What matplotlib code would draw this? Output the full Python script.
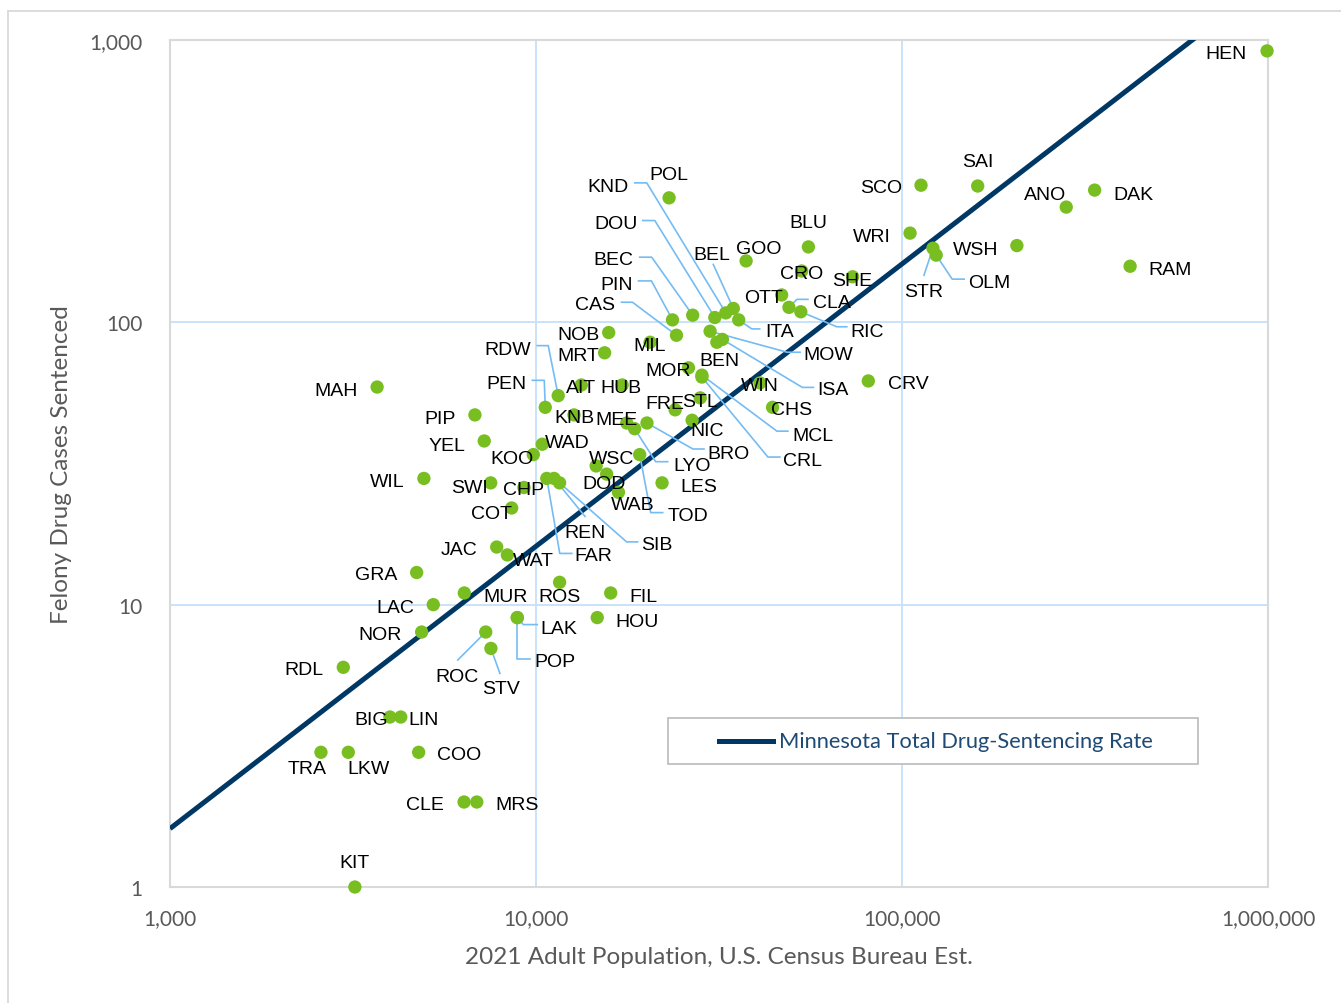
import matplotlib
matplotlib.use("Agg")
import matplotlib.pyplot as plt
from matplotlib import font_manager
from matplotlib.lines import Line2D
from matplotlib.patches import Rectangle
from matplotlib.transforms import IdentityTransform
import numpy as np

# county codes, adult population (2021 est.) and felony drug cases sentenced
counties = ["HEN", "RAM", "DAK", "ANO", "WSH", "SAI", "OLM", "STR", "SCO", "WRI",
            "CRV", "SHE", "BLU", "CRO", "RIC", "CLA", "OTT", "CHS", "WIN", "GOO",
            "ITA", "BEL", "KND", "ISA", "BEN", "DOU", "MOW", "MCL", "CRL", "STL",
            "BEC", "NIC", "MOR", "CAS", "FRE", "PIN", "POL", "LES", "MIL", "BRO",
            "TOD", "LYO", "MEE", "HUB", "WAB", "FIL", "NOB", "DOD", "MRT", "HOU",
            "WSC", "AIT", "KNB", "ROS", "SIB", "RDW", "REN", "FAR", "PEN", "WAD",
            "KOO", "CHP", "LAK", "POP", "COT", "WAT", "JAC", "STV", "SWI", "ROC",
            "YEL", "MRS", "PIP", "MUR", "CLE", "LAC", "WIL", "NOR", "COO", "GRA",
            "LIN", "BIG", "MAH", "KIT", "LKW", "RDL", "TRA"]
adult_pop = [994000, 420000, 336000, 281000, 206000, 161000, 124000, 121500, 112700, 105200,
             80900, 73300, 55500, 53200, 52900, 49100, 46900, 44300, 40900, 37500,
             35800, 34600, 33000, 32300, 31200, 30800, 29900, 28400, 28400, 28100,
             26800, 26700, 26100, 24200, 24000, 23600, 23100, 22100, 20500, 20100,
             19200, 18600, 17700, 17200, 16800, 16000, 15800, 15600, 15400, 14700,
             14600, 13300, 12700, 11600, 11600, 11500, 11200, 10700, 10600, 10400,
             9830, 9270, 8890, 8890, 8580, 8350, 7810, 7530, 7520, 7290,
             7220, 6890, 6810, 6370, 6360, 5240, 4940, 4870, 4780, 4720,
             4270, 3990, 3680, 3200, 3070, 2975, 2585]
cases = [915, 158, 294, 256, 187, 304, 173, 183, 306, 207,
         62, 145, 185, 152, 109, 113, 125, 50, 61, 165,
         102, 112, 108, 87, 85, 104, 93, 65, 64, 54,
         106, 45, 69, 90, 49, 102, 276, 27, 85, 44,
         34, 42, 44, 60, 25, 11, 92, 29, 78, 9,
         31, 60, 47, 12, 27, 55, 28, 28, 50, 37,
         34, 26, 9, 9, 22, 15, 16, 7, 27, 8,
         38, 2, 47, 11, 2, 10, 28, 8, 3, 13,
         4, 4, 59, 1, 3, 6, 3]
state_rate = 1.61  # cases per 1,000 adults, statewide

x_ticks = [1000, 10000, 100000, 1000000]
y_ticks = [1, 10, 100, 1000]

# text centre of each county label, in pixels from its point (y pointing down)
label_offset = {
    "HEN": (-41, 0), "RAM": (40, 1), "DAK": (39, 2), "ANO": (-21, -15), "WSH": (-41, 1),
    "SAI": (0, -27), "SCO": (-40, 0), "WRI": (-38, 1), "CRV": (40, 0), "SHE": (0, 1),
    "BLU": (0, -27), "CRO": (0, 0), "OTT": (-18, 0), "CHS": (19, 0), "WIN": (0, 0),
    "GOO": (13, -15), "BEN": (3, 16), "STL": (0, 1), "NIC": (15, 8), "MOR": (-20, 0),
    "FRE": (-10, -9), "POL": (0, -26), "LES": (37, 1), "MIL": (0, 1), "MEE": (-10, -6),
    "HUB": (-1, 0), "WAB": (14, 10), "FIL": (33, 1), "NOB": (-30, -1), "DOD": (-3, 7),
    "MRT": (-26, 0), "HOU": (40, 1), "WSC": (15, -10), "AIT": (0, 0), "KNB": (0, 0),
    "ROS": (0, 12), "WAD": (25, -4), "KOO": (-21, 1), "CHP": (0, 0), "COT": (-20, 3),
    "WAT": (26, 3), "JAC": (-38, 0), "SWI": (-21, 2), "YEL": (-37, 2), "MRS": (40, 0),
    "PIP": (-35, 1), "MUR": (41, 1), "CLE": (-39, 0), "LAC": (-38, 0), "WIL": (-37, 1),
    "NOR": (-42, 0), "COO": (40, 0), "GRA": (-40, 0), "LIN": (23, 0), "BIG": (-19, 0),
    "MAH": (-41, 1), "KIT": (0, -27), "LKW": (20, 14), "RDL": (-39, 0), "TRA": (-14, 14),
    # labels with leader lines
    "KND": (-118, -129), "DOU": (-99, -96), "BEC": (-79, -58), "PIN": (-56, -38),
    "CAS": (-81, -33), "BEL": (-21, -56), "ITA": (41, 9), "MOW": (118, 21), "ISA": (111, 48),
    "CLA": (43, -7), "RIC": (66, 17), "STR": (-9, 41), "OLM": (53, 25), "RDW": (-51, -49),
    "PEN": (-39, -26), "BRO": (82, 28), "LYO": (57, 34), "MCL": (111, 58), "CRL": (101, 81),
    "TOD": (48, 58), "REN": (31, 52), "FAR": (47, 75), "SIB": (97, 59), "LAK": (42, 8),
    "POP": (38, 41), "ROC": (-29, 42), "STV": (10, 38),
}
# leader line corners, in pixels from the point
leaders = {
    "KND": [(-79, -130), (-91, -130)], "DOU": [(-60, -97), (-72, -97)],
    "BEC": [(-41, -58), (-53, -58)], "PIN": [(-21, -39), (-34, -39)],
    "CAS": [(-44, -33), (-55, -33)], "BEL": [(-20, -44)],
    "ITA": [(13, 9), (21, 9)], "MOW": [(77, 21), (90, 21)], "ISA": [(80, 48), (91, 48)],
    "CLA": [(8, -8), (19, -8)], "RIC": [(36, 15), (46, 15)], "STR": [(-9, 27)],
    "OLM": [(16, 24), (28, 24)], "RDW": [(-10, -50), (-21, -50)], "PEN": [(-1, -27), (-13, -27)],
    "BRO": [(46, 26), (57, 26)], "LYO": [(21, 33), (33, 33)], "MCL": [(75, 56), (86, 56)],
    "CRL": [(66, 80), (78, 80)], "TOD": [(11, 58), (23, 58)], "REN": [(31, 38)],
    "FAR": [(13, 75), (25, 75)], "SIB": [(67, 59), (78, 59)], "LAK": [(6, 7), (20, 7)],
    "POP": [(0, 41), (13, 41)], "ROC": [(-28, 28)], "STV": [(9, 25)],
}

navy = "#003865"
green = "#78be21"
leader_blue = "#74bcf3"
grey_text = "#595959"

avail = {f.name for f in font_manager.fontManager.ttflist}
if "Liberation Sans Narrow" in avail:
    label_font, label_size = "Liberation Sans Narrow", 16
else:
    label_font, label_size = "Liberation Sans", 14
axis_font = "Lato" if "Lato" in avail else "DejaVu Sans"
cap_half = 0.716 * label_size * 100 / 72 / 2

W, H = 1341, 1004
fig = plt.figure(figsize=(W / 100, H / 100), dpi=100)
ax = fig.add_axes([170 / W, 1 - 888 / H, (1268 - 170) / W, (888 - 41) / H])

ax.set_xscale("log")
ax.set_yscale("log")
ax.set_xlim(1000, 1000000)
ax.set_ylim(1, 1000)

ax.set_xticks(x_ticks)
ax.set_xticklabels([f"{t:,}" for t in x_ticks])
ax.set_yticks(y_ticks)
ax.set_yticklabels([f"{t:,}" for t in y_ticks])
ax.minorticks_off()
ax.tick_params(length=0, labelsize=15, labelcolor=grey_text)
ax.tick_params(axis="x", pad=15)
ax.tick_params(axis="y", pad=20)
for lab in ax.get_xticklabels() + ax.get_yticklabels():
    lab.set_fontfamily(axis_font)

ax.grid(True, color="#c6e1f8", lw=1.3)
ax.set_axisbelow(True)
for sp in ax.spines.values():
    sp.set_color("#d9d9d9")
    sp.set_linewidth(1.5)
    sp.set_zorder(3)

ax.set_xlabel("2021 Adult Population, U.S. Census Bureau Est.", fontsize=17.5,
              color=grey_text, family=axis_font)
ax.set_ylabel("Felony Drug Cases Sentenced", fontsize=17.5, color=grey_text,
              family=axis_font)
ax.xaxis.set_label_coords(0.5, (888 - 947) / 847)
ax.yaxis.set_label_coords((72 - 170) / 1098, 0.5)

# statewide rate line
xs = np.array([1000, 1000000])
ax.plot(xs, xs * state_rate / 1000, color=navy, lw=3.6, zorder=4,
        solid_capstyle="butt")

ax.scatter(adult_pop, cases, s=92, color=green, edgecolors="none", zorder=5,
           clip_on=False)

ident = IdentityTransform()
for name, px, cy in zip(counties, adult_pop, cases):
    dx, dy = label_offset[name]
    ax.annotate(name, (px, cy), xytext=(dx, -(dy + cap_half)), textcoords="offset pixels",
                ha="center", va="baseline", fontsize=label_size, family=label_font,
                color="black", zorder=7)
    if name in leaders:
        x0, y0 = ax.transData.transform((px, cy))
        lx = [x0] + [x0 + ox for ox, oy in leaders[name]]
        ly = [y0] + [y0 - oy for ox, oy in leaders[name]]
        ax.add_artist(Line2D(lx, ly, transform=ident, color=leader_blue, lw=1.2,
                             zorder=4.5))

# legend box
ax.add_patch(Rectangle(((668 - 170) / 1098, (888 - 765) / 847), 530 / 1098, 46 / 847,
                       transform=ax.transAxes, facecolor="white", edgecolor="#bfbfbf",
                       lw=1.3, zorder=6))
ax.add_line(Line2D([(719 - 170) / 1098, (773 - 170) / 1098],
                   [(888 - 742) / 847] * 2, transform=ax.transAxes, color=navy,
                   lw=3.6, zorder=6.5))
ax.text((779 - 170) / 1098, (888 - 742) / 847, "Minnesota Total Drug-Sentencing Rate",
        transform=ax.transAxes, ha="left", va="center", fontsize=15.75, family=axis_font,
        color="#1f4a75", zorder=6.5)

# outer chart frame
frame_col = "#d9d9d9"
fig.add_artist(Line2D([8 / W, 8 / W], [0, 1 - 11.5 / H], transform=fig.transFigure,
                      color=frame_col, lw=1.3))
fig.add_artist(Line2D([8 / W, 1], [1 - 11.5 / H] * 2, transform=fig.transFigure,
                      color=frame_col, lw=1.3))

fig.savefig("out.png", dpi=100, facecolor="white")
